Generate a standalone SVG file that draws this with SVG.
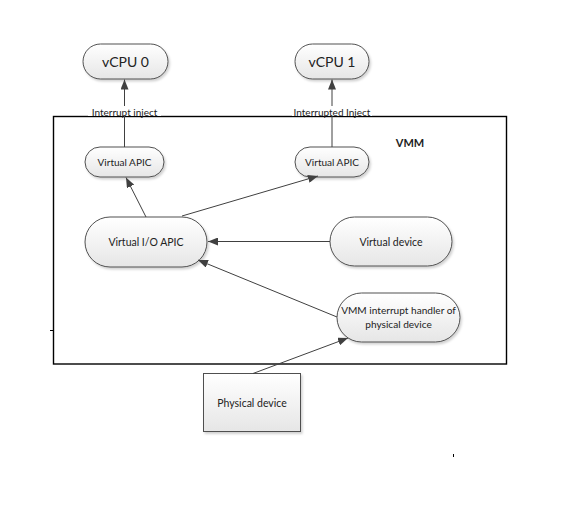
<svg xmlns="http://www.w3.org/2000/svg" width="565" height="507" viewBox="0 0 565 507">
<defs>
<linearGradient id="g" x1="0" y1="0" x2="0" y2="1">
<stop offset="0" stop-color="#ffffff"/>
<stop offset="1" stop-color="#e6e6e6"/>
</linearGradient>
<filter id="sh" x="-10%" y="-10%" width="130%" height="140%">
<feDropShadow dx="1.5" dy="2" stdDeviation="1" flood-color="#000" flood-opacity="0.18"/>
</filter>
<marker id="ah" viewBox="0 0 10 8" refX="10" refY="4" markerWidth="10" markerHeight="8" markerUnits="userSpaceOnUse" orient="auto">
<path d="M0,0 L10,4 L0,8 Z" fill="#404040"/>
</marker>
</defs>
<style>
.n{fill:url(#g);stroke:#505050;stroke-width:1;filter:url(#sh)}
.t{font-family:Lato,"Liberation Sans",sans-serif;fill:#222;text-anchor:middle;dominant-baseline:central}
.c{stroke:#404040;stroke-width:1;fill:none;marker-end:url(#ah)}
</style>
<rect width="565" height="507" fill="#fff"/>
<g id="vmm">
<rect x="53.5" y="116.5" width="453" height="247.5" fill="none" stroke="#000" stroke-width="1.4"/>
<text class="t" x="410" y="142" style="font-size:11px;font-weight:bold">VMM</text>
</g>
<g id="vcpu0">
<rect class="n" x="83" y="44" width="85" height="35" rx="17.5"/>
<text class="t" x="125.5" y="61.5" style="font-size:14px">vCPU 0</text>
</g>
<g id="vcpu1">
<rect class="n" x="295" y="44" width="74" height="35" rx="17.5"/>
<text class="t" x="332" y="61.5" style="font-size:14px">vCPU 1</text>
</g>
<g id="vapic0">
<rect class="n" x="85" y="147" width="79" height="30" rx="15"/>
<text class="t" x="124.5" y="162" style="font-size:10px">Virtual APIC</text>
</g>
<g id="vapic1">
<rect class="n" x="295" y="147" width="74" height="30" rx="15"/>
<text class="t" x="332" y="162" style="font-size:10px">Virtual APIC</text>
</g>
<g id="vioapic">
<rect class="n" x="85" y="217" width="122" height="50" rx="25"/>
<text class="t" x="146" y="241.5" style="font-size:10.5px">Virtual I/O APIC</text>
</g>
<g id="vdev">
<rect class="n" x="330" y="217" width="122" height="49" rx="24.5"/>
<text class="t" x="391" y="241.5" style="font-size:10.5px">Virtual device</text>
</g>
<g id="handler">
<rect class="n" x="337" y="293" width="123" height="49" rx="24.5"/>
<text class="t" x="398.5" y="310" style="font-size:10.1px">VMM interrupt handler of</text>
<text class="t" x="398.5" y="323.5" style="font-size:10.1px">physical device</text>
</g>
<g id="pdev">
<rect class="n" x="203.5" y="373.5" width="97" height="58"/>
<text class="t" x="252" y="402.5" style="font-size:10.5px">Physical device</text>
</g>
<g id="connectors">
<line class="c" x1="124.5" y1="147" x2="124.5" y2="79.5"/>
<line class="c" x1="332" y1="147" x2="332" y2="79.5"/>
<line class="c" x1="146" y1="217" x2="126" y2="177.5"/>
<line class="c" x1="182" y1="216" x2="318" y2="176"/>
<line class="c" x1="330" y1="241.5" x2="208" y2="241.5"/>
<line class="c" x1="337" y1="317" x2="198" y2="260"/>
<line class="c" x1="253" y1="373.5" x2="348" y2="338"/>
</g>
<g id="labels">
<rect x="88" y="106" width="73" height="10" fill="#fff"/>
<text class="t" x="124.5" y="112" style="font-size:10px">Interrupt inject</text>
<rect x="292" y="106" width="80" height="10" fill="#fff"/>
<text class="t" x="332" y="112" style="font-size:10px">Interrupted Inject</text>
</g>
<line x1="50" y1="330.5" x2="53" y2="330.5" stroke="#000" stroke-width="1"/>
<line x1="453.5" y1="454" x2="453.5" y2="457" stroke="#000" stroke-width="1"/>
</svg>
